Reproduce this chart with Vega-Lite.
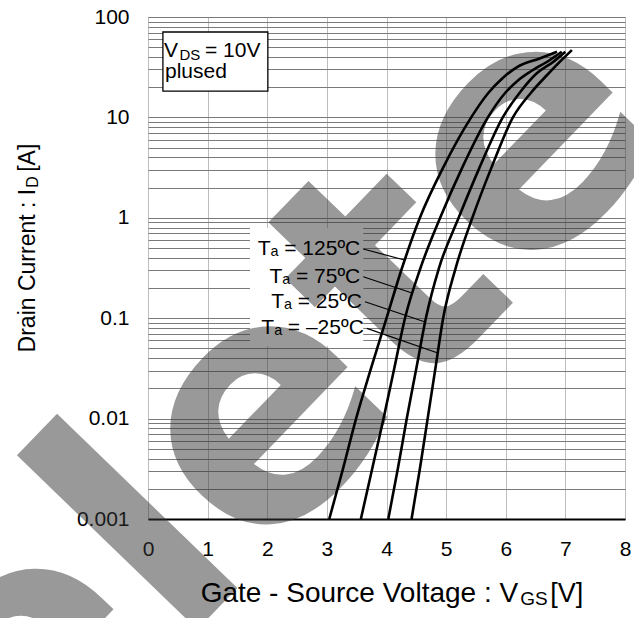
{
  "$schema": "https://vega.github.io/schema/vega-lite/v6.json",
  "width": 477,
  "height": 502,
  "autosize": {"type": "none"},
  "padding": {"left": 148, "top": 17, "right": 9, "bottom": 99},
  "background": "white",
  "config": {
    "view": {"stroke": "#8a8a8a", "strokeWidth": 1},
    "font": "Liberation Sans"
  },
  "resolve": {"axis": {"x": "independent", "y": "independent"}},
  "datasets": {
    "curves": [
      {"temp": "125", "V": 3.04, "I": 0.001},
      {"temp": "125", "V": 3.27, "I": 0.00316},
      {"temp": "125", "V": 3.49, "I": 0.01},
      {"temp": "125", "V": 3.74, "I": 0.0316},
      {"temp": "125", "V": 4.0, "I": 0.1},
      {"temp": "125", "V": 4.26, "I": 0.316},
      {"temp": "125", "V": 4.56, "I": 1.0},
      {"temp": "125", "V": 4.95, "I": 3.16},
      {"temp": "125", "V": 5.42, "I": 10.0},
      {"temp": "125", "V": 5.7, "I": 17.3},
      {"temp": "125", "V": 5.95, "I": 24.7},
      {"temp": "125", "V": 6.19, "I": 31.7},
      {"temp": "125", "V": 6.58, "I": 38.9},
      {"temp": "125", "V": 6.86, "I": 45.1},
      {"temp": "75", "V": 3.57, "I": 0.001},
      {"temp": "75", "V": 3.76, "I": 0.00316},
      {"temp": "75", "V": 3.95, "I": 0.01},
      {"temp": "75", "V": 4.13, "I": 0.0316},
      {"temp": "75", "V": 4.31, "I": 0.1},
      {"temp": "75", "V": 4.57, "I": 0.316},
      {"temp": "75", "V": 4.9, "I": 1.0},
      {"temp": "75", "V": 5.27, "I": 3.16},
      {"temp": "75", "V": 5.7, "I": 10.0},
      {"temp": "75", "V": 6.0, "I": 17.8},
      {"temp": "75", "V": 6.2, "I": 23.2},
      {"temp": "75", "V": 6.41, "I": 28.5},
      {"temp": "75", "V": 6.74, "I": 37.3},
      {"temp": "75", "V": 6.94, "I": 45.1},
      {"temp": "25", "V": 4.03, "I": 0.001},
      {"temp": "25", "V": 4.19, "I": 0.00316},
      {"temp": "25", "V": 4.34, "I": 0.01},
      {"temp": "25", "V": 4.5, "I": 0.0316},
      {"temp": "25", "V": 4.66, "I": 0.1},
      {"temp": "25", "V": 4.88, "I": 0.316},
      {"temp": "25", "V": 5.21, "I": 1.0},
      {"temp": "25", "V": 5.56, "I": 3.16},
      {"temp": "25", "V": 5.95, "I": 10.0},
      {"temp": "25", "V": 6.24, "I": 17.8},
      {"temp": "25", "V": 6.52, "I": 27.5},
      {"temp": "25", "V": 6.8, "I": 35.9},
      {"temp": "25", "V": 7.0, "I": 45.1},
      {"temp": "-25", "V": 4.42, "I": 0.001},
      {"temp": "-25", "V": 4.56, "I": 0.00316},
      {"temp": "-25", "V": 4.69, "I": 0.01},
      {"temp": "-25", "V": 4.82, "I": 0.0316},
      {"temp": "-25", "V": 4.95, "I": 0.1},
      {"temp": "-25", "V": 5.16, "I": 0.316},
      {"temp": "-25", "V": 5.44, "I": 1.0},
      {"temp": "-25", "V": 5.76, "I": 3.16},
      {"temp": "-25", "V": 6.12, "I": 10.0},
      {"temp": "-25", "V": 6.43, "I": 17.8},
      {"temp": "-25", "V": 6.69, "I": 26.3},
      {"temp": "-25", "V": 6.91, "I": 35.9},
      {"temp": "-25", "V": 7.11, "I": 46.8}
    ],
    "labels": [
      {"label": "Tₐ = 125ºC", "xs": 3.61, "ys": 0.489, "xe": 4.3, "ye": 0.38},
      {"label": "Tₐ = 75ºC", "xs": 3.61, "ys": 0.259, "xe": 4.44, "ye": 0.177},
      {"label": "Tₐ = 25ºC", "xs": 3.64, "ys": 0.146, "xe": 4.65, "ye": 0.0916},
      {"label": "Tₐ = –25ºC", "xs": 3.67, "ys": 0.0793, "xe": 4.86, "ye": 0.045}
    ],
    "one": [{}]
  },
  "layer": [
    {
      "data": {"name": "one"},
      "mark": {"type": "rect", "fill": "white"},
      "encoding": {
        "x": {"datum": 1.71, "type": "quantitative", "scale": {"domain": [0, 8], "nice": false, "zero": false}, "axis": null},
        "x2": {"datum": 3.61},
        "y": {"datum": 0.79, "type": "quantitative", "scale": {"type": "log", "domain": [0.001, 100], "nice": false}, "axis": null},
        "y2": {"datum": 0.0528}
      }
    },
    {
      "data": {"name": "one"},
      "mark": {"type": "rect", "fill": "white", "stroke": "black", "strokeWidth": 1.3},
      "encoding": {
        "x": {"datum": 0.25, "type": "quantitative", "scale": {"domain": [0, 8], "nice": false, "zero": false}, "axis": null},
        "x2": {"datum": 2.01},
        "y": {"datum": 70.9, "type": "quantitative", "scale": {"type": "log", "domain": [0.001, 100], "nice": false}, "axis": null},
        "y2": {"datum": 18.3}
      }
    },
    {
      "data": {"name": "one"},
      "mark": {"type": "text", "text": "Delete", "angle": -46, "align": "center", "baseline": "alphabetic", "fontSize": 330, "font": "DejaVu Sans", "fontWeight": "bold", "color": "#353535", "opacity": 0.5},
      "encoding": {
        "x": {"datum": 1.79, "type": "quantitative", "scale": {"domain": [0, 8], "nice": false, "zero": false}, "axis": null},
        "y": {"datum": 0.00031, "type": "quantitative", "scale": {"type": "log", "domain": [0.001, 100], "nice": false}, "axis": null}
      }
    },
    {
      "data": {"name": "curves"},
      "mark": {"type": "line", "color": "black", "strokeWidth": 2.6, "interpolate": "monotone"},
      "encoding": {
        "x": {
          "field": "V", "type": "quantitative",
          "scale": {"domain": [0, 8], "nice": false, "zero": false},
          "axis": {
            "values": [0, 1, 2, 3, 4, 5, 6, 7, 8], "title": null, "grid": true, "gridColor": "#bdbdbd", "gridWidth": 1,
            "ticks": false, "domain": true, "domainColor": "black", "domainWidth": 2,
            "labelFontSize": 21, "labelPadding": 19, "labelColor": "black", "labelFlush": false, "labelOverlap": false,
            "labelFont": "Liberation Sans", "labelDx": -2, "format": "d"
          }
        },
        "y": {
          "field": "I", "type": "quantitative",
          "scale": {"type": "log", "domain": [0.001, 100], "nice": false},
          "axis": {
            "values": [0.001, 0.002, 0.003, 0.004, 0.005, 0.006, 0.007, 0.008, 0.009, 0.01, 0.02, 0.03, 0.04, 0.05, 0.06, 0.07, 0.08, 0.09, 0.1, 0.2, 0.3, 0.4, 0.5, 0.6, 0.7, 0.8, 0.9, 1, 2, 3, 4, 5, 6, 7, 8, 9, 10, 20, 30, 40, 50, 60, 70, 80, 90, 100],
            "labelExpr": "indexof([0.001, 0.01, 0.1, 1, 10, 100], datum.value) >= 0 ? format(datum.value, '~g') : ''",
            "title": null, "grid": true, "gridColor": "#7a7a7a", "gridWidth": 1.2,
            "ticks": false, "domain": false,
            "labelFontSize": 21, "labelPadding": 19, "labelColor": "black", "labelOverlap": false, "labelBound": false,
            "labelFont": "Liberation Sans"
          }
        },
        "detail": {"field": "temp"}
      }
    },
    {
      "data": {"name": "labels"},
      "mark": {"type": "rule", "color": "black", "strokeWidth": 1.2},
      "encoding": {
        "x": {"field": "xs", "type": "quantitative", "scale": {"domain": [0, 8], "nice": false, "zero": false}, "axis": null},
        "x2": {"field": "xe"},
        "y": {"field": "ys", "type": "quantitative", "scale": {"type": "log", "domain": [0.001, 100], "nice": false}, "axis": null},
        "y2": {"field": "ye"}
      }
    },
    {
      "data": {"name": "labels"},
      "mark": {"type": "text", "align": "right", "baseline": "middle", "dx": -3, "fontSize": 21, "font": "Liberation Sans", "color": "black"},
      "encoding": {
        "x": {"field": "xs", "type": "quantitative", "scale": {"domain": [0, 8], "nice": false, "zero": false}, "axis": null},
        "y": {"field": "ys", "type": "quantitative", "scale": {"type": "log", "domain": [0.001, 100], "nice": false}, "axis": null},
        "text": {"field": "label"}
      }
    },
    {
      "data": {"name": "one"},
      "layer": [
        {"mark": {"type": "text", "text": "V", "align": "left", "baseline": "alphabetic", "dx": 16, "dy": 40, "fontSize": 21, "font": "Liberation Sans", "color": "black"}},
        {"mark": {"type": "text", "text": "DS", "align": "left", "baseline": "alphabetic", "dx": 31.5, "dy": 43, "fontSize": 15, "font": "Liberation Sans", "color": "black"}},
        {"mark": {"type": "text", "text": "= 10V", "align": "left", "baseline": "alphabetic", "dx": 57, "dy": 40, "fontSize": 21, "font": "Liberation Sans", "color": "black"}},
        {"mark": {"type": "text", "text": "plused", "align": "left", "baseline": "alphabetic", "dx": 17, "dy": 61, "fontSize": 21, "font": "Liberation Sans", "color": "black"}}
      ],
      "encoding": {
        "x": {"datum": 0, "type": "quantitative", "scale": {"domain": [0, 8], "nice": false, "zero": false}, "axis": null},
        "y": {"datum": 100, "type": "quantitative", "scale": {"type": "log", "domain": [0.001, 100], "nice": false}, "axis": null}
      }
    },
    {
      "data": {"name": "one"},
      "layer": [
        {"mark": {"type": "text", "text": "Gate - Source Voltage : V", "align": "right", "baseline": "alphabetic", "dy": 83, "fontSize": 28, "font": "Liberation Sans", "color": "black"}},
        {"mark": {"type": "text", "text": "GS", "align": "left", "baseline": "alphabetic", "dx": 2, "dy": 86, "fontSize": 19, "font": "Liberation Sans", "color": "black"}},
        {"mark": {"type": "text", "text": "[V]", "align": "left", "baseline": "alphabetic", "dx": 32, "dy": 83, "fontSize": 27, "font": "Liberation Sans", "color": "black"}}
      ],
      "encoding": {
        "x": {"datum": 6.208, "type": "quantitative", "scale": {"domain": [0, 8], "nice": false, "zero": false}, "axis": null},
        "y": {"datum": 0.001, "type": "quantitative", "scale": {"type": "log", "domain": [0.001, 100], "nice": false}, "axis": null}
      }
    },
    {
      "data": {"name": "one"},
      "layer": [
        {"mark": {"type": "text", "text": "Drain Current : I", "angle": 270, "align": "right", "baseline": "alphabetic", "dx": 29, "dy": -113, "fontSize": 23, "font": "Liberation Sans", "color": "black"}},
        {"mark": {"type": "text", "text": "D", "angle": 270, "align": "left", "baseline": "alphabetic", "dx": 30, "dy": -110, "fontSize": 16, "font": "Liberation Sans", "color": "black"}},
        {"mark": {"type": "text", "text": "[A]", "angle": 270, "align": "left", "baseline": "alphabetic", "dx": 46, "dy": -113, "fontSize": 23, "font": "Liberation Sans", "color": "black"}}
      ],
      "encoding": {
        "x": {"datum": 0, "type": "quantitative", "scale": {"domain": [0, 8], "nice": false, "zero": false}, "axis": null},
        "y": {"datum": 1, "type": "quantitative", "scale": {"type": "log", "domain": [0.001, 100], "nice": false}, "axis": null}
      }
    }
  ]
}
